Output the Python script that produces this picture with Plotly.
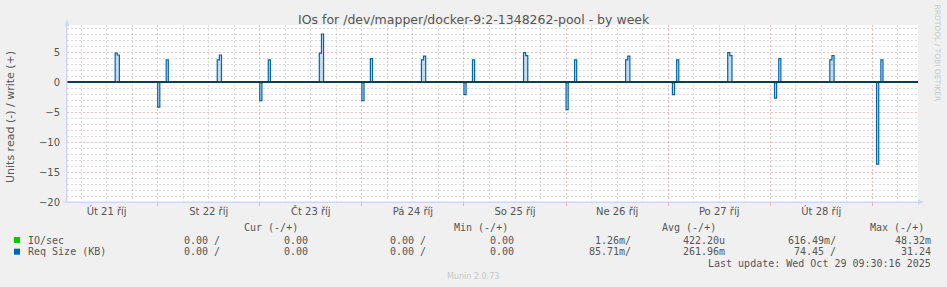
import plotly.graph_objects as go
import pandas as pd

# ---------------- data ----------------
TITLE = "IOs for /dev/mapper/docker-9:2-1348262-pool - by week"
Y_TITLE = "Units read (-) / write (+)"
X_START = "2025-10-21 02:41"
X_END = "2025-10-29 10:44"

day_ticks = ["2025-10-21 12:00", "2025-10-22 12:00", "2025-10-23 12:00", "2025-10-24 12:00",
             "2025-10-25 12:00", "2025-10-26 12:00", "2025-10-27 12:00", "2025-10-28 12:00"]
day_labels = ["Út 21 říj", "St 22 říj", "Čt 23 říj", "Pá 24 říj",
              "So 25 říj", "Ne 26 říj", "Po 27 říj", "Út 28 říj"]

# Req Size (KB) - write (+), non-zero 30 min samples
req_write_times = ["2025-10-21 14:00", "2025-10-21 14:30", "2025-10-22 02:00",
                   "2025-10-22 14:00", "2025-10-22 14:30", "2025-10-23 02:00",
                   "2025-10-23 14:00", "2025-10-23 14:30", "2025-10-24 02:00",
                   "2025-10-24 14:00", "2025-10-24 14:30", "2025-10-25 02:00",
                   "2025-10-25 14:00", "2025-10-25 14:30", "2025-10-26 02:00",
                   "2025-10-26 14:00", "2025-10-26 14:30", "2025-10-27 02:00",
                   "2025-10-27 14:00", "2025-10-27 14:30", "2025-10-28 02:00",
                   "2025-10-28 14:00", "2025-10-28 14:30", "2025-10-29 02:00"]
req_write_vals = [4.8, 4.5, 3.7,
                  3.7, 4.5, 3.7,
                  4.8, 8.0, 3.9,
                  3.7, 4.3, 3.7,
                  4.9, 4.4, 3.7,
                  3.7, 4.3, 3.7,
                  4.9, 4.4, 3.9,
                  3.7, 4.4, 3.7]

# Req Size (KB) - read (-), magnitudes
req_read_times = ["2025-10-22 00:00", "2025-10-23 00:00", "2025-10-24 00:00", "2025-10-25 00:00",
                  "2025-10-26 00:00", "2025-10-27 01:00", "2025-10-28 01:00", "2025-10-29 01:00"]
req_read_vals = [4.2, 3.1, 3.1, 2.1, 4.6, 2.1, 2.7, 13.7]

# IO/sec - read (-), magnitudes (tiny)
io_read_times = req_read_times
io_read_vals = [0.1, 0.2, 0.2, 0.2, 0.2, 0.2, 0.2, 0.1]

legend_names = ["IO/sec", "Req Size (KB)"]
legend_colors = ["#00cc00", "#0066b3"]
col_headers = ["Cur (-/+)", "Min (-/+)", "Avg (-/+)", "Max (-/+)"]
legend_cells = [
    ["0.00 /", "0.00", "0.00 /", "0.00", "1.26m/", "422.20u", "616.49m/", "48.32m"],
    ["0.00 /", "0.00", "0.00 /", "0.00", "85.71m/", "261.96m", "74.45 /", "31.24"],
]
LAST_UPDATE = "Last update: Wed Oct 29 09:30:16 2025"
MUNIN_VER = "Munin 2.0.73"
RRD_MARK = "RRDTOOL / TOBI OETIKER"

# ---------------- series ----------------
grid_t = pd.date_range("2025-10-21 02:30", "2025-10-29 11:00", freq="30min")


def series(times, vals, sign):
    s = pd.Series(0.0, index=grid_t)
    for t, v in zip(times, vals):
        s[pd.Timestamp(t)] = sign * v
    return s


io_write = series([], [], 1)
io_read = series(io_read_times, io_read_vals, -1)
rq_write = series(req_write_times, req_write_vals, 1)
rq_read = series(req_read_times, req_read_vals, -1)

# ---------------- layout helpers ----------------
W, H = 947, 287
L, R, T, B = 67, 29, 25, 85
PW, PH = W - L - R, H - T - B


def px(x):
    return (x - L) / PW


def py(y):
    return (H - B - y) / PH


TXT = "#555555"
AXIS_C = "#CFD6F8"
MAJ = "rgba(222,79,79,0.38)"
MIN = "rgba(143,143,143,0.32)"
DASH = "2px,2px"

fig = go.Figure()

for s, col in [(io_read, legend_colors[0]), (io_write, legend_colors[0])]:
    fig.add_trace(go.Scatter(x=s.index, y=s.values, mode="lines", line=dict(color=col, width=1.2, shape="hv"),
                             hoverinfo="skip", showlegend=False))
for s in [rq_read, rq_write]:
    fig.add_trace(go.Scatter(x=s.index, y=s.values, mode="lines",
                             line=dict(color=legend_colors[1], width=1.2, shape="hv"),
                             fill="tozeroy", fillcolor="rgba(110,170,220,0.4)",
                             hoverinfo="skip", showlegend=False))
# helper trace for the grid axis
fig.add_trace(go.Scatter(x=[X_START, X_END], y=[None, None], xaxis="x2", mode="lines",
                         hoverinfo="skip", showlegend=False))

fig.update_layout(
    width=W, height=H,
    margin=dict(l=L, r=R, t=T, b=B, pad=0),
    paper_bgcolor="#f0f0f0", plot_bgcolor="#ffffff",
    font=dict(family="DejaVu Sans", size=10, color=TXT),
    showlegend=False,
    xaxis=dict(type="date", range=[X_START, X_END], tickmode="array", tickvals=day_ticks,
               ticktext=day_labels, showgrid=False, zeroline=False, showline=True,
               linecolor=AXIS_C, linewidth=1, ticks="", tickfont=dict(size=10, color=TXT)),
    xaxis2=dict(type="date", range=[X_START, X_END], overlaying="x", anchor="y", side="bottom",
                tick0="2025-10-21 00:00", dtick=86400000, showgrid=True, gridcolor=MAJ,
                griddash=DASH, gridwidth=1, showticklabels=False, ticks="outside", ticklen=3,
                tickcolor=MAJ, showline=False, zeroline=False,
                minor=dict(tick0="2025-10-21 00:00", dtick=21600000, showgrid=True,
                           gridcolor=MIN, griddash=DASH, gridwidth=1, ticks="")),
    yaxis=dict(range=[-20, 9.5], tick0=0, dtick=5, showgrid=True, gridcolor=MAJ, griddash=DASH,
               gridwidth=1, zeroline=False, showline=True, linecolor=AXIS_C, linewidth=1,
               ticks="", ticklabelstandoff=4, tickfont=dict(size=10, color=TXT),
               minor=dict(dtick=1, showgrid=True, gridcolor=MIN, griddash=DASH, gridwidth=1)),
)

shapes = [
    dict(type="line", xref="paper", yref="y", x0=0, x1=1, y0=0, y1=0,
         line=dict(color="#000000", width=1), layer="above"),
    dict(type="line", xref="paper", yref="paper", x0=0, x1=0, y0=py(H - B), y1=py(21),
         line=dict(color=AXIS_C, width=1)),
    dict(type="line", xref="paper", yref="paper", x0=px(63), x1=px(920), y0=0, y1=0,
         line=dict(color=AXIS_C, width=1)),
    dict(type="path", xref="paper", yref="paper",
         path=f"M {px(64.5)},{py(26)} L {px(69.5)},{py(26)} L {px(67)},{py(19.5)} Z",
         fillcolor=AXIS_C, line=dict(color=AXIS_C, width=0)),
    dict(type="path", xref="paper", yref="paper",
         path=f"M {px(918)},{py(199.5)} L {px(918)},{py(204.5)} L {px(924)},{py(202)} Z",
         fillcolor=AXIS_C, line=dict(color=AXIS_C, width=0)),
]
row_y = [240, 251.7]
for i, col in enumerate(legend_colors):
    shapes.append(dict(type="rect", xref="paper", yref="paper",
                       x0=px(14), x1=px(20), y0=py(row_y[i] - 3), y1=py(row_y[i] + 3),
                       fillcolor=col, line=dict(width=0)))
fig.update_layout(shapes=shapes)

ann = []
MONO = "DejaVu Sans Mono"


def add_text(text, x, y, xanchor="center", size=10, color=TXT, family=MONO, angle=0):
    ann.append(dict(text=text, x=px(x), y=py(y), xref="paper", yref="paper", showarrow=False,
                    xanchor=xanchor, yanchor="middle", textangle=angle,
                    font=dict(family=family, size=size, color=color)))


add_text(TITLE, 473.5, 19, size=12.5, family="DejaVu Sans", color="#555555")
add_text(Y_TITLE, 10, 117, size=11, family="DejaVu Sans", angle=-90)
add_text(RRD_MARK, 937.5, 53, size=7.5, family="DejaVu Sans", color="#c8c8c8", angle=90)

header_right = [300, 510, 718, 926]
for h, xr in zip(col_headers, header_right):
    add_text(h, xr, 227.3, xanchor="right")
cell_right = [222, 310, 428, 516, 633, 727, 838, 933]
for i, name in enumerate(legend_names):
    add_text(name, 26, row_y[i], xanchor="left")
    for cell, xr in zip(legend_cells[i], cell_right):
        add_text(cell, xr, row_y[i], xanchor="right")
add_text(LAST_UPDATE, 933, 263.3, xanchor="right")
add_text(MUNIN_VER, 473, 276, size=8, family="DejaVu Sans", color="#c8c8c8")
fig.update_layout(annotations=ann)

fig.write_html("out.html")
